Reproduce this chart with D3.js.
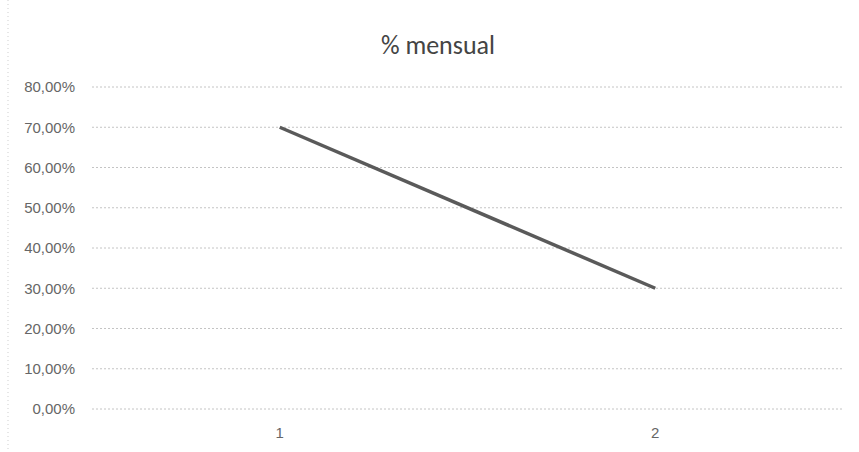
<!DOCTYPE html>
<html>
<head>
<meta charset="utf-8">
<script src="https://cdn.jsdelivr.net/npm/d3@7"></script>
<style>
  body { margin: 0; background: #fff; }
  svg { display: block; font-family: Carlito, "Liberation Sans", "Open Sans", sans-serif; }
</style>
</head>
<body>
<svg id="chart" width="859" height="452"></svg>
<script>
// chart data
const categories = ["1", "2"];
const monthlyPct = [0.70, 0.30];
const yTicks = [0, 0.1, 0.2, 0.3, 0.4, 0.5, 0.6, 0.7, 0.8];
const title = "% mensual";

const svg = d3.select("#chart");
const margin = { left: 92, right: 16, top: 87, bottom: 43 };
const width = 859, height = 452;

// scales
const x = d3.scaleBand()
  .domain(categories)
  .range([margin.left, width - margin.right]);

const y = d3.scaleLinear()
  .domain([0, 0.8])
  .range([height - margin.bottom, margin.top]);

const fmt = d => d3.format(".2f")(d * 100).replace(".", ",") + "%";

// faint scan border on the left
svg.append("line")
  .attr("x1", 8).attr("x2", 8)
  .attr("y1", 0).attr("y2", height)
  .attr("stroke", "#cfcfcf")
  .attr("stroke-dasharray", "1,3");

// gridlines
svg.append("g")
  .selectAll("line")
  .data(yTicks)
  .join("line")
  .attr("x1", margin.left)
  .attr("x2", width - margin.right)
  .attr("y1", d => y(d))
  .attr("y2", d => y(d))
  .attr("stroke", "#c4c4c4")
  .attr("stroke-width", 1)
  .attr("stroke-dasharray", "2,2");

// y axis labels
const yAxis = d3.axisLeft(y).tickValues(yTicks).tickFormat(fmt).tickSize(0).tickPadding(17);
svg.append("g")
  .attr("transform", `translate(${margin.left},0)`)
  .call(yAxis)
  .call(g => g.select(".domain").remove())
  .call(g => g.selectAll("text")
    .attr("fill", "#666")
    .style("font-size", "15px"));

// x axis labels
const xAxis = d3.axisBottom(x).tickSize(0).tickPadding(18);
svg.append("g")
  .attr("transform", `translate(0,${height - margin.bottom})`)
  .call(xAxis)
  .call(g => g.select(".domain").remove())
  .call(g => g.selectAll("text")
    .attr("fill", "#666")
    .style("font-size", "15px"));

// the line
const line = d3.line()
  .x((d, i) => x(categories[i]) + x.bandwidth() / 2)
  .y(d => y(d));

svg.append("path")
  .datum(monthlyPct)
  .attr("d", line)
  .attr("fill", "none")
  .attr("stroke", "#5a5a5a")
  .attr("stroke-width", 3.5)
  .attr("stroke-linecap", "butt");

// title
svg.append("text")
  .attr("x", 438)
  .attr("y", 54)
  .attr("text-anchor", "middle")
  .attr("fill", "#444")
  .style("font-size", "26px")
  .text(title);
</script>
</body>
</html>
